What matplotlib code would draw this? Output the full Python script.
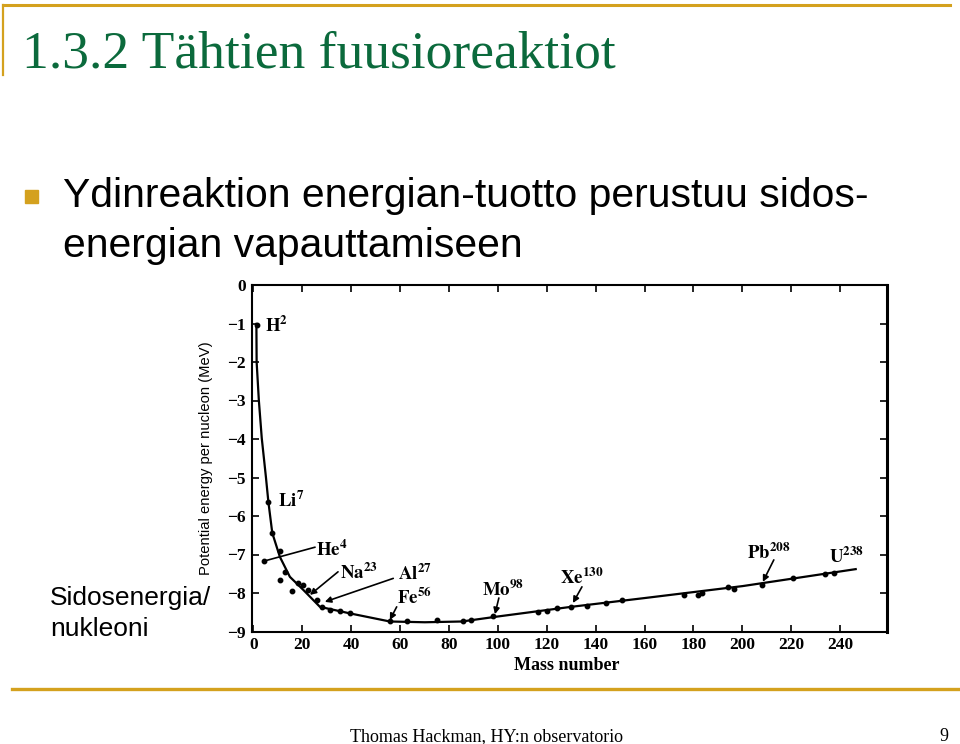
import matplotlib
matplotlib.use("Agg")
import matplotlib.pyplot as plt
from matplotlib.lines import Line2D
from matplotlib.patches import Rectangle

plt.rcParams['mathtext.fontset'] = 'stix'

# slide texts
title = "1.3.2 Tähtien fuusioreaktiot"
bullet_lines = ["Ydinreaktion energian-tuotto perustuu sidos-",
                "energian vapauttamiseen"]
side_lines = ["Sidosenergia/", "nukleoni"]
footer = "Thomas Hackman, HY:n observatorio"
page_no = "9"

# measured nuclei (mass number, potential energy per nucleon in MeV)
mass_pts = [1.3, 4.4, 6.1, 7.7, 10.8, 10.8, 12.9, 15.6, 18.3, 20.4, 22.2, 25.8,
            27.9, 31.3, 35.4, 39.5, 55.8, 62.9, 74.9, 85.8, 89.2, 98.1, 116.5,
            119.9, 124.3, 130.1, 136.3, 144.2, 150.6, 176.1, 181.9, 183.7,
            194.2, 196.5, 207.9, 220.8, 234.0, 237.4]
energy_pts = [-1.04, -7.17, -5.63, -6.45, -6.9, -7.66, -7.45, -7.96, -7.75, -7.8,
              -7.92, -8.18, -8.37, -8.44, -8.48, -8.53, -8.74, -8.72, -8.69,
              -8.72, -8.69, -8.59, -8.5, -8.47, -8.40, -8.36, -8.33, -8.27,
              -8.18, -8.04, -8.05, -7.99, -7.85, -7.90, -7.78, -7.62, -7.51,
              -7.49]

# smooth curve through them
mass_curve = [1.2, 1.3, 2.2, 3.4, 5.1, 6.1, 7.7, 10.8, 14.9, 20.4, 27.2, 39.5,
              55.8, 70.1, 85.3, 100, 129.9, 160.2, 200.2, 246.4]
energy_curve = [-1.01, -2.0, -2.99, -3.98, -4.99, -5.63, -6.44, -7.06, -7.58,
                -7.92, -8.36, -8.53, -8.74, -8.76, -8.74, -8.61, -8.36, -8.13,
                -7.82, -7.38]

# nucleus labels: text, text position, pointer line (start, end) or None
labels = ["H^{2}", "Li^{7}", "He^{4}", "Na^{23}", "Al^{27}",
          "Fe^{56}", "Mo^{98}", "Xe^{130}", "Pb^{208}", "U^{238}"]
label_xy = [(4.7, -1.05), (10.0, -5.6), (25.6, -6.88), (35.4, -7.48),
            (59.1, -7.5), (58.7, -8.13), (93.5, -7.92), (125.4, -7.61),
            (201.8, -6.96), (235.3, -7.06)]
pointers = [None, None,
            ((25.2, -6.81), (4.4, -7.17)),
            ((34.6, -7.45), (23.1, -8.05)),
            ((57.2, -7.62), (29.2, -8.23)),
            ((58.6, -8.36), (55.8, -8.70)),
            ((100.4, -8.13), (98.8, -8.55)),
            ((134.4, -7.84), (130.7, -8.26)),
            ((212.9, -7.14), (208.4, -7.71)),
            None]
has_head = [False, False, False, True, True, True, True, True, True, False]

x_ticks = list(range(0, 241, 20))
y_ticks = list(range(0, -10, -1))

gold = '#D4A11E'
green = '#0B6A3C'

fig = plt.figure(figsize=(9.6, 7.44), dpi=100)
W, H = 960.0, 744.0

def fx(px):
    return px / W

def fy(py):
    return 1 - py / H

# slide frame
fig.add_artist(Line2D([fx(3), fx(950)], [fy(5), fy(5)], color=gold, lw=2.2))
fig.add_artist(Line2D([fx(3), fx(3)], [fy(5), fy(75)], color=gold, lw=1.6))
fig.add_artist(Line2D([fx(12), fx(960)], [fy(689), fy(689)], color=gold, lw=2.4))

fig.text(fx(22), fy(68), title, color=green, fontsize=38.5,
         family='Liberation Serif', va='baseline')

fig.add_artist(Rectangle((fx(25), fy(203)), 13 / W, 13 / H, color=gold,
                         transform=fig.transFigure))
fig.text(fx(63), fy(207), bullet_lines[0], fontsize=29.4,
         family='Liberation Sans', va='baseline')
fig.text(fx(63), fy(257), bullet_lines[1], fontsize=29.4,
         family='Liberation Sans', va='baseline')

fig.text(fx(50), fy(605), side_lines[0], fontsize=19, family='Liberation Sans',
         va='baseline')
fig.text(fx(50), fy(636), side_lines[1], fontsize=19, family='Liberation Sans',
         va='baseline')

fig.text(fx(486), fy(741), footer, fontsize=13, family='Liberation Serif',
         ha='center', va='baseline')
fig.text(fx(948), fy(741), page_no, fontsize=13, family='Liberation Serif',
         ha='right', va='baseline')

# chart
ax = fig.add_axes([fx(251.5), fy(631.5), (886.5 - 251.5) / W, (631.5 - 285) / H])
ax.plot(mass_curve, energy_curve, color='black', lw=1.6)
ax.plot(mass_pts, energy_pts, 'o', color='black', ms=3.2)

for i, lab in enumerate(labels):
    ax.text(label_xy[i][0], label_xy[i][1], r'$\mathbf{' + lab + '}$',
            fontsize=13.5, va='center', ha='left')
    if pointers[i] is not None:
        p0, p1 = pointers[i]
        style = '-|>' if has_head[i] else '-'
        ax.annotate('', xy=p1, xytext=p0,
                    arrowprops=dict(arrowstyle=style, color='black', lw=1.2,
                                    mutation_scale=9, shrinkA=0, shrinkB=0))

ax.set_xlim(-0.8, 259)
ax.set_ylim(-9, 0)
ax.set_xticks(x_ticks)
ax.set_yticks(y_ticks)
ax.tick_params(direction='in', length=5, width=1.2, top=True, right=True,
               labelsize=12.5, pad=4)
for lab in ax.get_xticklabels() + ax.get_yticklabels():
    lab.set_family('Liberation Serif')
    lab.set_fontweight('bold')
for s in ax.spines.values():
    s.set_linewidth(1.5)
ax.spines['right'].set_linewidth(2.2)

ax.set_ylabel("Potential energy per nucleon (MeV)", fontsize=10.6,
              family='Liberation Sans')
ax.yaxis.set_label_coords(-0.06, 0.5)
ax.set_xlabel("Mass number", fontsize=13, family='Liberation Serif',
              fontweight='bold')
ax.xaxis.set_label_coords(0.497, -0.074)

fig.savefig("out.png", dpi=100)
